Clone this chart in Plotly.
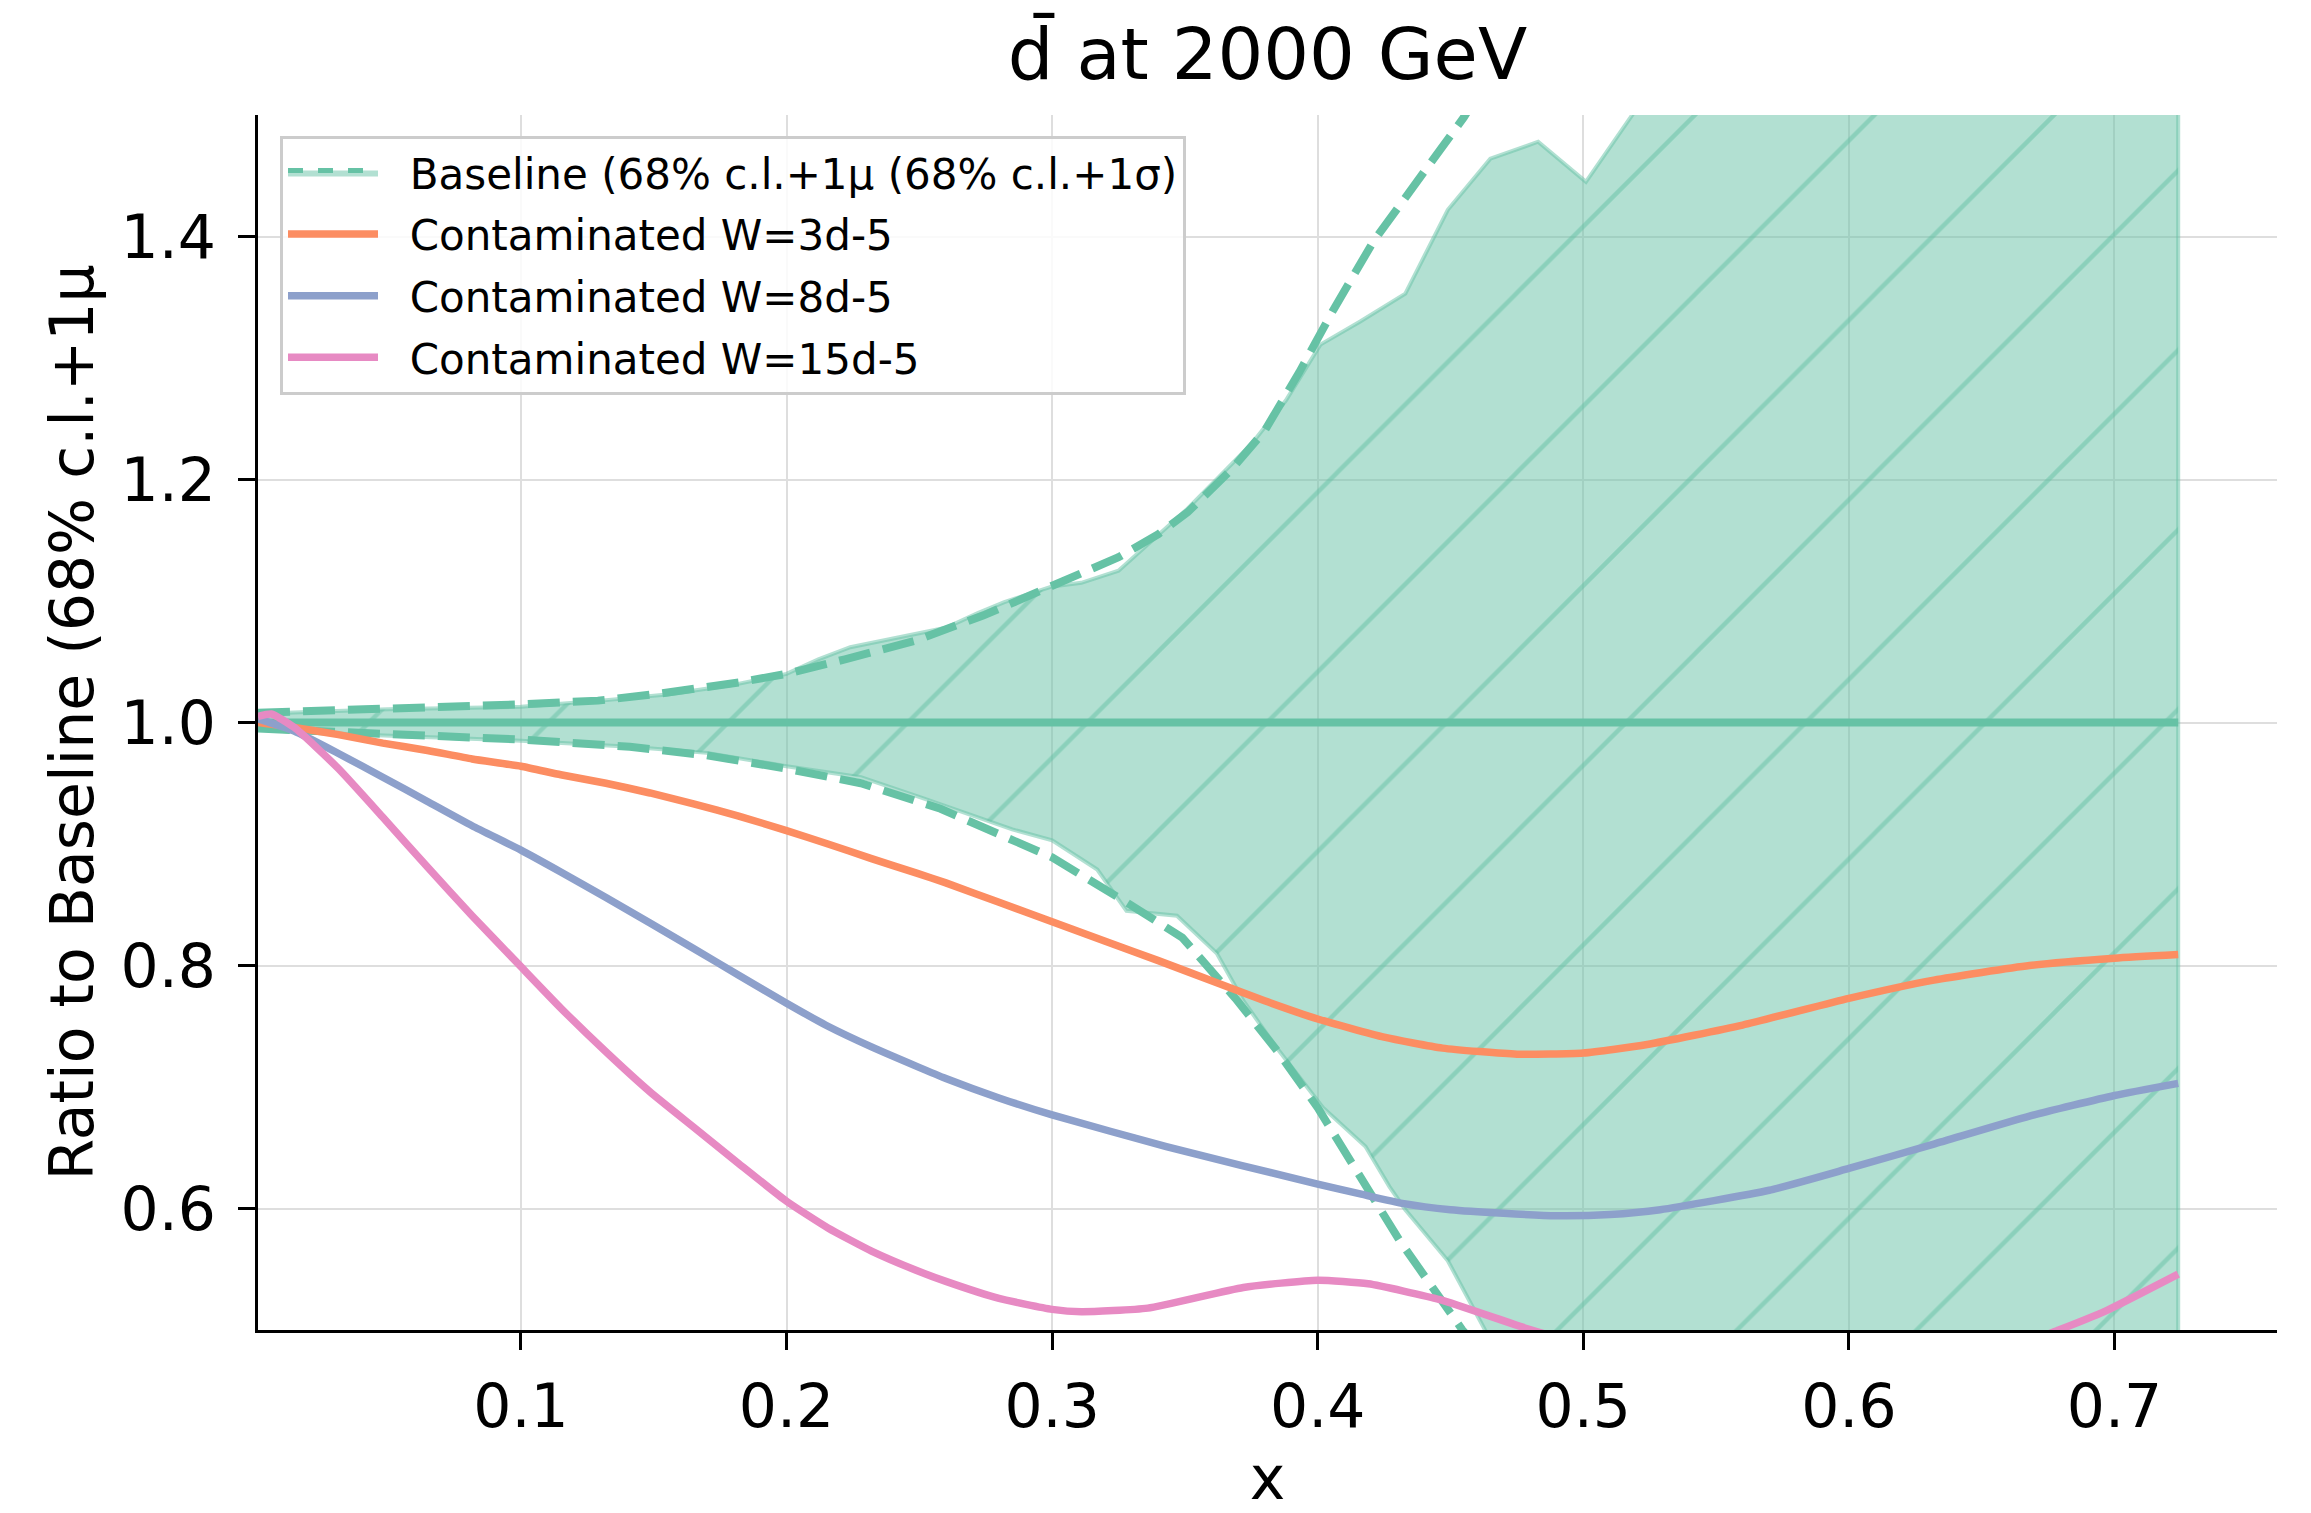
import plotly.graph_objects as go

# ---------------- data ----------------
band_hi_x = [0.001, 0.012, 0.025, 0.05, 0.1, 0.13, 0.155, 0.18, 0.2, 0.212, 0.224, 0.245, 0.26,
             0.272, 0.282, 0.3, 0.311, 0.325, 0.351, 0.375, 0.388, 0.401, 0.416, 0.433, 0.449,
             0.465, 0.483, 0.501, 0.52, 0.55, 0.6, 0.65, 0.7, 0.724]
band_hi_y = [1.006, 1.008, 1.009, 1.011, 1.013, 1.018, 1.023, 1.031, 1.040, 1.052, 1.062, 1.071, 1.078,
             1.090, 1.099, 1.112, 1.115, 1.125, 1.176, 1.229, 1.265, 1.311, 1.330, 1.353, 1.422,
             1.464, 1.478, 1.445, 1.505, 1.58, 1.66, 1.74, 1.82, 1.86]

band_lo_x = [0.001, 0.012, 0.041, 0.1, 0.141, 0.17, 0.2, 0.228, 0.251, 0.285, 0.3, 0.317, 0.328,
             0.347, 0.362, 0.372, 0.385, 0.402, 0.418, 0.427, 0.433, 0.449, 0.463, 0.48, 0.5,
             0.55, 0.6, 0.65, 0.7, 0.724]
band_lo_y = [0.995, 0.9925, 0.990, 0.985, 0.980, 0.975, 0.964, 0.955, 0.938, 0.912, 0.903, 0.879, 0.845,
             0.841, 0.810, 0.771, 0.731, 0.683, 0.651, 0.618, 0.599, 0.557, 0.500, 0.44, 0.38,
             0.25, 0.15, 0.08, 0.03, 0.0]

sig_hi_x = [0.001, 0.05, 0.1, 0.129, 0.153, 0.182, 0.2, 0.222, 0.248, 0.274, 0.3, 0.325, 0.34, 0.351,
            0.367, 0.38, 0.393, 0.406, 0.421, 0.435, 0.455, 0.47, 0.5, 0.55, 0.6, 0.65, 0.7, 0.724]
sig_hi_y = [1.008, 1.011, 1.015, 1.018, 1.024, 1.033, 1.040, 1.052, 1.067, 1.088, 1.113, 1.136, 1.155, 1.173,
            1.207, 1.240, 1.288, 1.340, 1.396, 1.439, 1.498, 1.55, 1.65, 1.82, 2.0, 2.2, 2.4, 2.5]

sig_lo_x = [0.001, 0.041, 0.1, 0.141, 0.17, 0.2, 0.228, 0.258, 0.3, 0.328, 0.349, 0.369, 0.385, 0.4,
            0.416, 0.4215, 0.431, 0.441, 0.4545, 0.47, 0.5, 0.55, 0.6, 0.65, 0.7, 0.724]
sig_lo_y = [0.995, 0.991, 0.986, 0.980, 0.973, 0.962, 0.950, 0.929, 0.889, 0.852, 0.823, 0.773, 0.729, 0.683,
            0.625, 0.605, 0.573, 0.542, 0.500, 0.46, 0.38, 0.27, 0.18, 0.10, 0.04, 0.02]

central_x = [0.001, 0.724]
central_y = [1.0, 1.0]

w3_x = [0.001, 0.0146, 0.0313, 0.048, 0.0648, 0.0816, 0.1, 0.115, 0.132, 0.1486, 0.165, 0.182, 0.2,
        0.2156, 0.232, 0.249, 0.26, 0.28, 0.3, 0.32, 0.34, 0.363, 0.38, 0.4, 0.425, 0.447, 0.475,
        0.5, 0.524, 0.56, 0.6, 0.632, 0.668, 0.7, 0.724]
w3_y = [1.000, 0.996, 0.990, 0.983, 0.977, 0.970, 0.964, 0.957, 0.950, 0.942, 0.933, 0.923, 0.911,
        0.900, 0.888, 0.876, 0.868, 0.852, 0.836, 0.820, 0.804, 0.785, 0.771, 0.756, 0.741, 0.732, 0.727,
        0.728, 0.735, 0.751, 0.773, 0.788, 0.800, 0.806, 0.809]

w8_x = [0.001, 0.0146, 0.0313, 0.048, 0.0648, 0.0816, 0.1, 0.115, 0.132, 0.1486, 0.165, 0.182, 0.2,
        0.2156, 0.232, 0.249, 0.26, 0.28, 0.3, 0.343, 0.4, 0.416, 0.4325, 0.45, 0.47, 0.49, 0.51, 0.529,
        0.57, 0.6, 0.632, 0.668, 0.7, 0.724]
w8_y = [1.003, 0.993, 0.9745, 0.955, 0.935, 0.915, 0.895, 0.877, 0.856, 0.835, 0.814, 0.792, 0.769,
        0.750, 0.733, 0.717, 0.707, 0.691, 0.677, 0.651, 0.620, 0.612, 0.604, 0.599, 0.596, 0.594, 0.595,
        0.599, 0.615, 0.633, 0.653, 0.676, 0.693, 0.703]

w15_x = [0.001, 0.006, 0.0146, 0.0313, 0.048, 0.0648, 0.0816, 0.1, 0.115, 0.132, 0.1486, 0.165, 0.182,
         0.2, 0.2156, 0.232, 0.249, 0.26, 0.28, 0.3, 0.311, 0.336, 0.372, 0.4, 0.419, 0.446, 0.479,
         0.5, 0.55, 0.6, 0.64, 0.679, 0.697, 0.724]
w15_y = [1.005, 1.007, 0.996, 0.962, 0.922, 0.881, 0.841, 0.799, 0.765, 0.729, 0.696, 0.667, 0.637,
         0.606, 0.584, 0.565, 0.549, 0.540, 0.526, 0.517, 0.515, 0.518, 0.535, 0.541, 0.538, 0.525, 0.501,
         0.488, 0.462, 0.452, 0.468, 0.500, 0.516, 0.546]

x_tick_vals = [0.1, 0.2, 0.3, 0.4, 0.5, 0.6, 0.7]
x_tick_text = ["0.1", "0.2", "0.3", "0.4", "0.5", "0.6", "0.7"]
y_tick_vals = [0.6, 0.8, 1.0, 1.2, 1.4]
y_tick_text = ["0.6", "0.8", "1.0", "1.2", "1.4"]

labels = ["Baseline (68% c.l.+1μ (68% c.l.+1σ)", "Contaminated W=3d-5",
          "Contaminated W=8d-5", "Contaminated W=15d-5"]

# ---------------- styles ----------------
GREEN = "#66c2a5"
GREEN_HALF = "rgba(102,194,165,0.5)"
ORANGE = "#fc8d62"
BLUE = "#8da0cb"
PINK = "#e78ac3"
FONT = "DejaVu Sans"
PAD = "\u00a0\u00a0"

pattern = dict(shape="/", size=127, solidity=0.035, fgcolor=GREEN_HALF,
               bgcolor=GREEN_HALF, fillmode="replace")

fig = go.Figure()

# legend entry for baseline
fig.add_trace(go.Scatter(
    x=[None], y=[None], mode="lines", fill="toself", fillcolor=GREEN_HALF,
    fillpattern=pattern, line=dict(color=GREEN, width=5, dash="dash"),
    name=PAD + labels[0], legendgroup="g0", showlegend=True, hoverinfo="skip"))

# band polygon
fig.add_trace(go.Scatter(
    x=band_hi_x + band_lo_x[::-1], y=band_hi_y + band_lo_y[::-1],
    mode="lines", fill="toself", fillcolor=GREEN_HALF, fillpattern=pattern,
    line=dict(color=GREEN_HALF, width=4), showlegend=False, hoverinfo="skip"))

for sx, sy in [(sig_hi_x, sig_hi_y), (sig_lo_x, sig_lo_y)]:
    fig.add_trace(go.Scatter(x=sx, y=sy, mode="lines",
                             line=dict(color=GREEN, width=8, dash="32px,13px"),
                             showlegend=False, hoverinfo="skip"))

fig.add_trace(go.Scatter(x=central_x, y=central_y, mode="lines",
                         line=dict(color=GREEN, width=8), showlegend=False))

for i, (cx, cy, col) in enumerate([(w3_x, w3_y, ORANGE), (w8_x, w8_y, BLUE), (w15_x, w15_y, PINK)]):
    fig.add_trace(go.Scatter(x=cx, y=cy, mode="lines",
                             line=dict(color=col, width=7.5, shape="spline", smoothing=0.5),
                             name=PAD + labels[i + 1], legendgroup="g%d" % (i + 1)))

axis_common = dict(showline=True, linecolor="black", linewidth=3, mirror=False,
                   ticks="outside", ticklen=17, tickwidth=2.5, tickcolor="black",
                   showgrid=True, gridcolor="#dedede", gridwidth=1.5, zeroline=False,
                   tickfont=dict(family=FONT, size=60, color="black"))

fig.update_layout(
    width=2311, height=1513,
    margin=dict(l=258, r=34, t=115, b=169),
    paper_bgcolor="white", plot_bgcolor="white",
    title=dict(text="d\u0304 at 2000 GeV", x=0.5, xref="paper", xanchor="center",
               y=1 - 54 / 1513, yref="container", yanchor="middle",
               font=dict(family=FONT, size=72, color="black")),
    xaxis=dict(range=[0.001, 0.7612], tickvals=x_tick_vals, ticktext=x_tick_text,
               title=dict(text="x", font=dict(family=FONT, size=60, color="black"), standoff=18),
               ticklabelstandoff=5, **axis_common),
    yaxis=dict(range=[0.5, 1.5], tickvals=y_tick_vals, ticktext=y_tick_text,
               title=dict(text="Ratio to Baseline (68% c.l.+1μ",
                          font=dict(family=FONT, size=60, color="black"), standoff=8),
               ticklabelstandoff=10, **axis_common),
    legend=dict(x=0.0109, y=0.983, xanchor="left", yanchor="top",
                bgcolor="rgba(255,255,255,0.85)", bordercolor="#cccccc", borderwidth=3,
                font=dict(family=FONT, size=42, color="black"),
                tracegroupgap=4, itemwidth=90, traceorder="grouped"),
    showlegend=True,
)

fig.write_html("out.html")
